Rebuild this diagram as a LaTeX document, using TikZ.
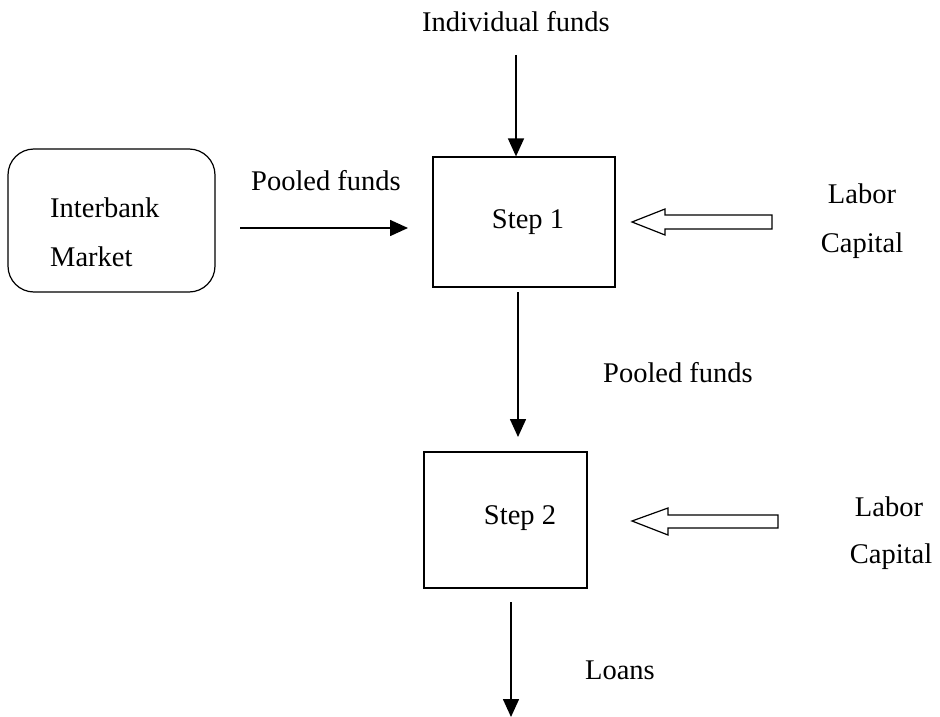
\documentclass[tikz,border=0pt]{standalone}
\usepackage{fontspec}
\setmainfont{Liberation Serif}
\usetikzlibrary{arrows.meta}
\begin{document}
\begin{tikzpicture}[x=1pt,y=-1pt,
  txt/.style={font=\fontsize{28.5}{32}\selectfont, inner sep=0pt},
  box/.style={draw, line width=1.2pt, inner sep=0pt},
  flow/.style={line width=1.6pt, -{Triangle[width=16pt,length=18pt]}},
  hollow/.style={draw, line width=1.2pt, fill=white, line join=miter}]
\useasboundingbox (0,0) rectangle (940,717);
% nodes
\node[txt] (ind) at (516,22) {Individual funds};
\node[box, minimum width=182pt, minimum height=130pt] (s1) at (524,222) {};
\node[txt] (s1t) at (528,222) {Step 1};
\node[box, rounded corners=26pt, minimum width=207pt, minimum height=143pt] (ib) at (111.5,220.5) {};
\node[txt, anchor=west] (ib1) at (50,208) {Interbank};
\node[txt, anchor=west] (ib2) at (50,257) {Market};
\node[txt] (pf1) at (326,181) {Pooled funds};
\node[txt] (lab1) at (862,194) {Labor};
\node[txt] (cap1) at (862,246) {Capital};
\node[txt] (pf2) at (678,373) {Pooled funds};
\node[box, minimum width=163pt, minimum height=136pt] (s2) at (505.5,520) {};
\node[txt] (s2t) at (520,518) {Step 2};
\node[txt] (lab2) at (889,507) {Labor};
\node[txt] (cap2) at (891,557) {Capital};
\node[txt] (loans) at (620,670) {Loans};
% coordinates for free ends
\coordinate (a1s) at (516,55);
\coordinate (a2s) at (240,228);
\coordinate (a2e) at (408,228);
\coordinate (a3s) at (518,292);
\coordinate (a3e) at (518,437);
\coordinate (a4s) at (511,602);
\coordinate (a4e) at (511,717);
% connectors
\draw[flow] (a1s) -- (s1.north -| a1s);
\draw[flow] (a2s) -- (a2e);
\draw[flow] (a3s) -- (a3e);
\draw[flow] (a4s) -- (a4e);
% hollow arrows
\draw[hollow] (632,222) -- (665,209) -- (665,215) -- (772,215) -- (772,229) -- (665,229) -- (665,235) -- cycle;
\draw[hollow] (632,521) -- (668,508) -- (668,515) -- (778,515) -- (778,528) -- (668,528) -- (668,535) -- cycle;
\end{tikzpicture}
\end{document}
